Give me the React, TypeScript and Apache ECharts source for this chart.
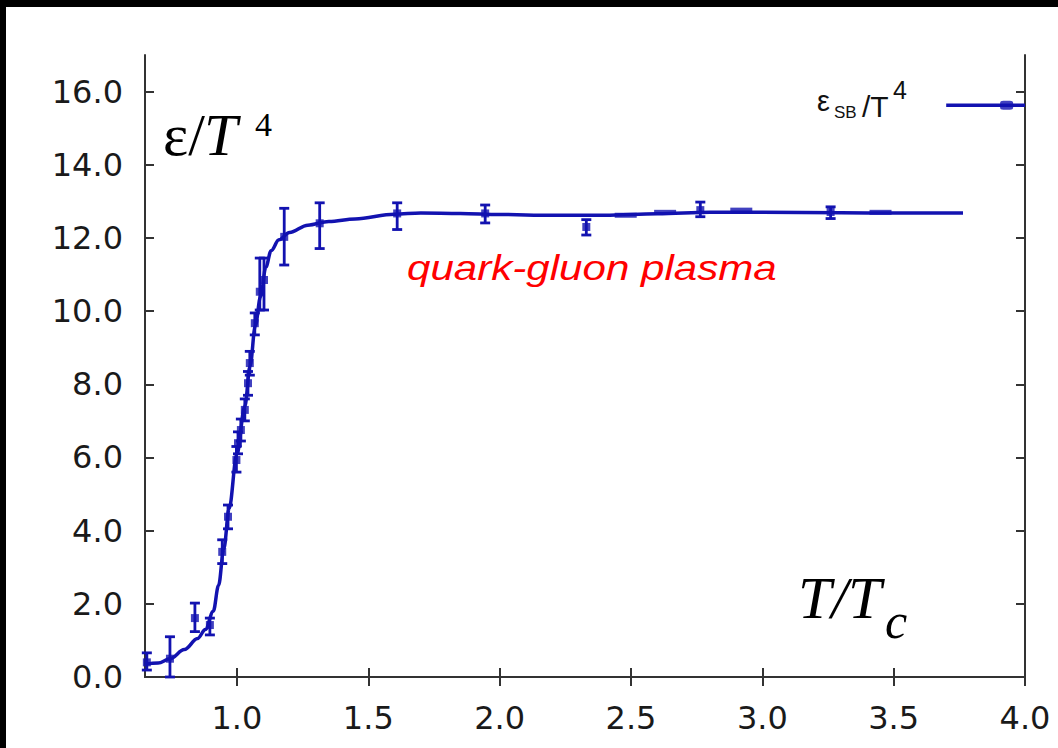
import React, { useEffect, useRef } from "react";
import * as echarts from "echarts";

// Smooth fitted curve epsilon/T^4 vs T/Tc
const curveT = [0.65, 0.7, 0.745, 0.8, 0.85, 0.88, 0.91, 0.93, 0.95, 0.97, 1.0, 1.03, 1.05, 1.07, 1.09, 1.11, 1.13, 1.16, 1.2, 1.27, 1.35, 1.45, 1.6, 1.7, 1.85, 2.0, 2.2, 2.4, 2.6, 2.8, 3.0, 3.3, 3.5, 3.764];
const curveE = [0.35, 0.38, 0.5, 0.75, 1.05, 1.3, 1.8, 2.5, 3.5, 4.6, 6.1, 7.4, 8.5, 9.6, 10.4, 11.2, 11.65, 11.95, 12.15, 12.35, 12.45, 12.52, 12.65, 12.68, 12.67, 12.64, 12.62, 12.62, 12.66, 12.7, 12.7, 12.69, 12.68, 12.68];

// Lattice data points with error bars
const pointT = [0.657, 0.745, 0.84, 0.897, 0.944, 0.966, 0.998, 1.004, 1.015, 1.03, 1.042, 1.049, 1.068, 1.087, 1.103, 1.18, 1.315, 1.61, 1.945, 2.33, 2.764, 3.26];
const pointE = [0.4, 0.5, 1.61, 1.42, 3.42, 4.38, 5.93, 6.39, 6.75, 7.3, 8.03, 8.58, 9.67, 10.53, 10.85, 12.03, 12.4, 12.67, 12.67, 12.3, 12.76, 12.71];
const errLow = [0.19, 0.0, 1.24, 1.15, 3.1, 4.05, 5.6, 6.1, 6.45, 7.0, 7.7, 8.25, 9.35, 10.03, 10.03, 11.26, 11.71, 12.23, 12.41, 12.08, 12.58, 12.53];
const errHigh = [0.66, 1.1, 2.02, 1.61, 3.75, 4.7, 6.3, 6.7, 7.05, 7.6, 8.35, 8.9, 9.95, 11.45, 11.45, 12.81, 12.96, 12.96, 12.9, 12.5, 12.98, 12.85];

// short dash-like data marks on the plateau
const dashT = [2.48, 2.63, 2.92, 3.45];
const dashE = [12.62, 12.7, 12.76, 12.7];

// Stefan-Boltzmann limit
const sbT = [3.7, 4.0];
const sbE = 15.63;
const sbMarkT = 3.93;

const xTicks = [1.0, 1.5, 2.0, 2.5, 3.0, 3.5, 4.0];
const yTicks = [0, 2, 4, 6, 8, 10, 12, 14, 16];

const BLUE = "#1212b0";
const AXIS = "#333333";

export default function App() {
  const ref = useRef<HTMLDivElement>(null);
  useEffect(() => {
    if (!ref.current) return;
    const chart = echarts.init(ref.current, undefined, { renderer: "svg" });
    const labelStyle = {
      fontFamily: "DejaVu Sans",
      fontSize: 32,
      color: "#1a1a1a",
      formatter: (v: number) => v.toFixed(1),
    };
    const option: any = {
      animation: false,
      backgroundColor: "#ffffff",
      grid: { left: 145, top: 55, right: 33, bottom: 71, containLabel: false },
      xAxis: [
        {
          type: "value",
          min: 0.65,
          max: 4.0,
          position: "bottom",
          axisLine: { show: true, lineStyle: { color: AXIS, width: 2 } },
          axisTick: { show: true, inside: true, length: 9, customValues: xTicks, lineStyle: { color: AXIS, width: 2 } },
          axisLabel: { ...labelStyle, margin: 25, customValues: xTicks },
          splitLine: { show: false },
        },
        {
          type: "value",
          min: 0.65,
          max: 4.0,
          position: "top",
          axisLine: { show: true, lineStyle: { color: AXIS, width: 2 } },
          axisTick: { show: true, inside: true, length: 9, customValues: xTicks, lineStyle: { color: AXIS, width: 2 } },
          axisLabel: { show: false },
          splitLine: { show: false },
        },
      ],
      yAxis: [
        {
          type: "value",
          min: 0,
          max: 17,
          position: "left",
          axisLine: { show: true, lineStyle: { color: AXIS, width: 2 } },
          axisTick: { show: true, inside: true, length: 9, customValues: yTicks, lineStyle: { color: AXIS, width: 2 } },
          axisLabel: { ...labelStyle, margin: 22, customValues: yTicks },
          splitLine: { show: false },
        },
        {
          type: "value",
          min: 0,
          max: 17,
          position: "right",
          axisLine: { show: true, lineStyle: { color: AXIS, width: 2 } },
          axisTick: { show: true, inside: true, length: 9, customValues: yTicks, lineStyle: { color: AXIS, width: 2 } },
          axisLabel: { show: false },
          splitLine: { show: false },
        },
      ],
      series: [
        {
          type: "line",
          name: "fit",
          data: curveT.map((t, i) => [t, curveE[i]]),
          smooth: 0.35,
          smoothMonotone: "x",
          showSymbol: false,
          symbol: "none",
          lineStyle: { color: BLUE, width: 3.5 },
          z: 2,
        },
        {
          type: "custom",
          name: "errors",
          data: pointT.map((t, i) => [t, errLow[i], errHigh[i]]),
          encode: { x: 0, y: [1, 2] },
          renderItem: (params: any, api: any) => {
            const x = api.value(0);
            const pLo = api.coord([x, api.value(1)]);
            const pHi = api.coord([x, api.value(2)]);
            const w = 5;
            const style = { stroke: BLUE, lineWidth: 2.8, fill: null };
            return {
              type: "group",
              children: [
                { type: "line", shape: { x1: pLo[0], y1: pLo[1], x2: pHi[0], y2: pHi[1] }, style },
                { type: "line", shape: { x1: pLo[0] - w, y1: pLo[1], x2: pLo[0] + w, y2: pLo[1] }, style },
                { type: "line", shape: { x1: pHi[0] - w, y1: pHi[1], x2: pHi[0] + w, y2: pHi[1] }, style },
              ],
            };
          },
          z: 3,
        },
        {
          type: "scatter",
          name: "points",
          data: pointT.map((t, i) => [t, pointE[i]]),
          symbol: "rect",
          symbolSize: [8, 8],
          itemStyle: { color: BLUE },
          z: 4,
        },
        {
          type: "scatter",
          name: "dashes",
          data: dashT.map((t, i) => [t, dashE[i]]),
          symbol: "rect",
          symbolSize: [22, 5],
          itemStyle: { color: BLUE },
          z: 4,
        },
        {
          type: "line",
          name: "SB",
          data: sbT.map((t) => [t, sbE]),
          showSymbol: false,
          symbol: "none",
          lineStyle: { color: BLUE, width: 3.5 },
          z: 2,
        },
        {
          type: "scatter",
          name: "SBmark",
          data: [[sbMarkT, sbE]],
          symbol: "roundRect",
          symbolSize: [13, 9],
          itemStyle: { color: BLUE },
          z: 4,
        },
      ],
      graphic: [
        { type: "rect", shape: { x: 0, y: 0, width: 1058, height: 7 }, style: { fill: "#000" }, z: 100 },
        { type: "rect", shape: { x: 0, y: 0, width: 6, height: 748 }, style: { fill: "#000" }, z: 100 },
        {
          type: "text",
          x: 163,
          y: 135,
          style: { text: "ε/", font: "60px 'Liberation Serif'", fill: "#000", align: "left", verticalAlign: "middle" },
        },
        {
          type: "text",
          x: 204,
          y: 135,
          style: { text: "T", font: "italic 60px 'Liberation Serif'", fill: "#000", align: "left", verticalAlign: "middle" },
        },
        {
          type: "text",
          x: 255,
          y: 124,
          style: { text: "4", font: "34px 'Liberation Serif'", fill: "#000", align: "left", verticalAlign: "middle" },
        },
        {
          type: "text",
          x: 798,
          y: 598,
          style: { text: "T/T", font: "italic 60px 'Liberation Serif'", fill: "#000", align: "left", verticalAlign: "middle" },
        },
        {
          type: "text",
          x: 885,
          y: 621,
          style: { text: "c", font: "italic 50px 'Liberation Serif'", fill: "#000", align: "left", verticalAlign: "middle" },
        },
        {
          type: "text",
          x: 407,
          y: 267.5,
          scaleX: 1.17,
          style: { text: "quark-gluon plasma", font: "italic 36px 'Liberation Sans'", fill: "#ff0000", align: "left", verticalAlign: "middle" },
        },
        {
          type: "text",
          x: 817,
          y: 101,
          style: { text: "ε", font: "29px 'Liberation Sans'", fill: "#111", align: "left", verticalAlign: "middle" },
        },
        {
          type: "text",
          x: 834,
          y: 112,
          style: { text: "SB", font: "17px 'Liberation Sans'", fill: "#111", align: "left", verticalAlign: "middle" },
        },
        {
          type: "text",
          x: 862,
          y: 106,
          style: { text: "/T", font: "30px 'Liberation Sans'", fill: "#111", align: "left", verticalAlign: "middle" },
        },
        {
          type: "text",
          x: 893,
          y: 90,
          style: { text: "4", font: "25px 'Liberation Sans'", fill: "#111", align: "left", verticalAlign: "middle" },
        },
      ],
    };
    chart.setOption(option);
    return () => chart.dispose();
  }, []);
  return (
    <div
      ref={ref}
      style={{ position: "fixed", left: 0, top: 0, width: 1058, height: 748, background: "#fff" }}
    />
  );
}
